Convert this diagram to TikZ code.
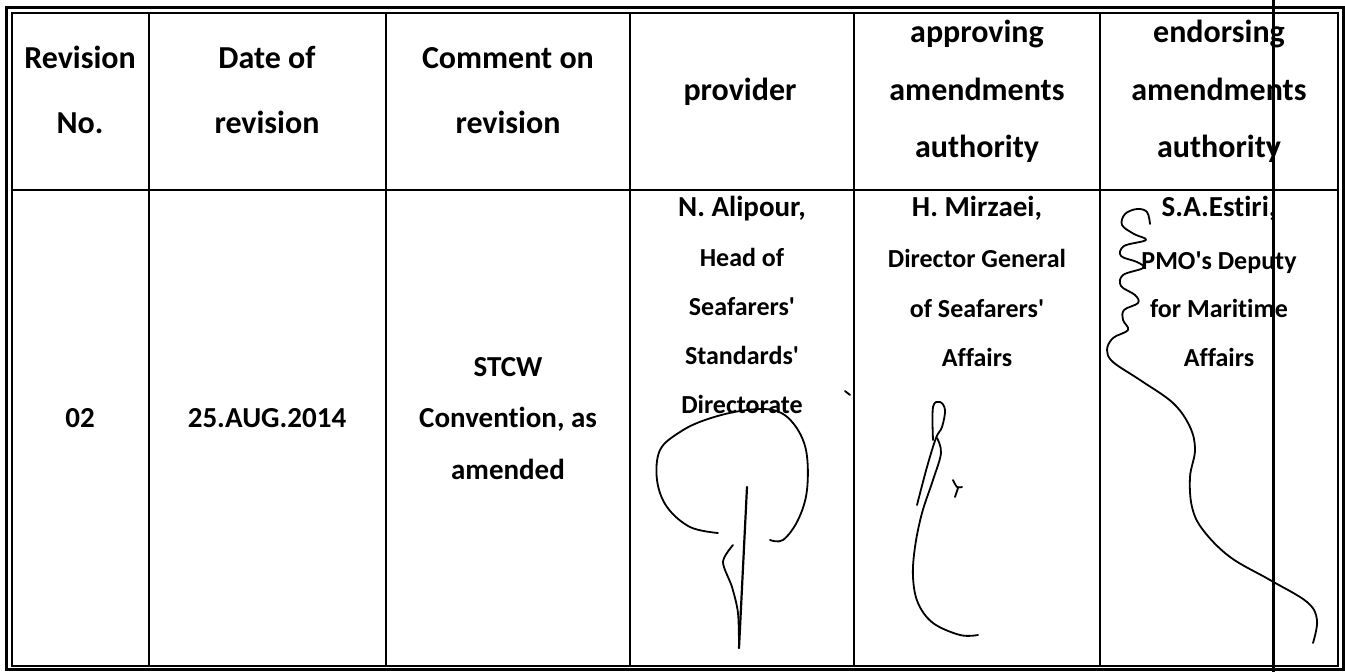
\documentclass[tikz,border=0pt]{standalone}
\usepackage{fontspec}
\setmainfont{Carlito}[Ligatures=NoCommon]
\newcommand\apos{\textquotesingle}
\begin{document}
\begin{tikzpicture}[x=1pt,y=-1pt,
  hd/.style={font=\fontsize{32}{36}\selectfont\bfseries, anchor=mid, inner sep=0pt},
  nm/.style={font=\fontsize{29}{33}\selectfont\bfseries, anchor=mid, inner sep=0pt},
  tl/.style={font=\fontsize{26}{30}\selectfont\bfseries, anchor=mid, inner sep=0pt},
  rule/.style={line width=1.5pt},
  sig/.style={line width=1.8pt, line cap=round, line join=round}]
\useasboundingbox (0,0) rectangle (1345,672);
\fill[white] (0,0) rectangle (1345,672);
% borders
\draw[line width=3pt] (6,7) rectangle (1343,669);
\draw[line width=1.2pt] (12,13) rectangle (1338,666);
% column rules
\foreach \x in {149,386,630,854,1100} \draw[rule] (\x,13) -- (\x,666);
\draw[line width=2pt] (12,190) -- (1338,190);
% crossing line
\draw[line width=3pt] (1273,0) -- (1273,672);
% header
\node[hd] (h1a) at (80,66) {Revision};
\node[hd] (h1b) at (80,131) {No.};
\node[hd] (h2a) at (267,66) {Date of};
\node[hd] (h2b) at (267,131) {revision};
\node[hd] (h3a) at (508,66) {Comment on};
\node[hd] (h3b) at (508,131) {revision};
\node[hd] (h4) at (740,98) {provider};
\node[hd] (h5a) at (977,40) {approving};
\node[hd] (h5b) at (977,98) {amendments};
\node[hd] (h5c) at (977,155) {authority};
\node[hd] (h6a) at (1219,40) {endorsing};
\node[hd] (h6b) at (1219,98) {amendments};
\node[hd] (h6c) at (1219,155) {authority};
% body
\node[nm] (b1) at (80,425) {02};
\node[nm] (b2) at (267,425) {25.AUG.2014};
\node[nm] (b3a) at (508,374) {STCW};
\node[nm] (b3b) at (508,425) {Convention, as};
\node[nm] (b3c) at (508,477) {amended};
\node[nm] (b4a) at (742,214) {N. Alipour,};
\node[tl] (b4b) at (742,264) {Head of};
\node[tl] (b4c) at (742,313) {Seafarers\apos};
\node[tl] (b4d) at (742,362) {Standards\apos};
\node[tl] (b4e) at (742,411) {Directorate};
\node[nm] (b5a) at (977,214) {H. Mirzaei,};
\node[tl] (b5b) at (977,265) {Director General};
\node[tl] (b5c) at (977,315) {of Seafarers\apos};
\node[tl] (b5d) at (977,364) {Affairs};
\node[nm] (b6a) at (1219,214) {S.A.Estiri,};
\node[tl] (b6b) at (1219,267) {PMO\apos s Deputy};
\node[tl] (b6c) at (1219,315) {for Maritime};
\node[tl] (b6d) at (1219,364) {Affairs};
% signature 1
\draw[sig] plot[smooth,tension=0.6] coordinates {(718,533) (690,527) (667,507) (657,480) (660,450) (680,432) (705,420) (740,411) (773,410) (793,423) (806,450) (807,490) (798,520) (783,540) (770,540)};
\draw[sig,line width=2.2pt] (747,487) -- (739,648);
\draw[sig] plot[smooth,tension=0.5] coordinates {(733,545) (723,562) (732,587) (738,613) (739,648)};
\draw[sig] (845,391) -- (850,395);
% signature 2
\draw[sig] plot[smooth,tension=0.6] coordinates {(933,440) (933,407) (940,402) (945,410) (942,427) (936,438) (927,467) (917,505)};
\draw[sig] plot[smooth,tension=0.6] coordinates {(937,438) (941,453) (933,480) (922,513) (915,547) (913,577) (918,603) (933,623) (960,635) (978,635)};
\draw[sig] plot[smooth,tension=0.5] coordinates {(953,480) (957,487) (962,487)};
\draw[sig] (958,488) -- (955,497);
% signature 3
\draw[sig] plot[smooth,tension=0.6] coordinates {(1150,224) (1147,212) (1137,209) (1125,214) (1122,225) (1134,234) (1146,240) (1124,246) (1121,256) (1137,262) (1143,268) (1123,275) (1121,286) (1135,295) (1138,303) (1124,310) (1123,320) (1128,330) (1113,338) (1107,350) (1113,362) (1140,380) (1173,403) (1190,427) (1195,450) (1190,477) (1192,507) (1203,530) (1230,557) (1270,580) (1307,602) (1317,620) (1313,643)};
\end{tikzpicture}
\end{document}
